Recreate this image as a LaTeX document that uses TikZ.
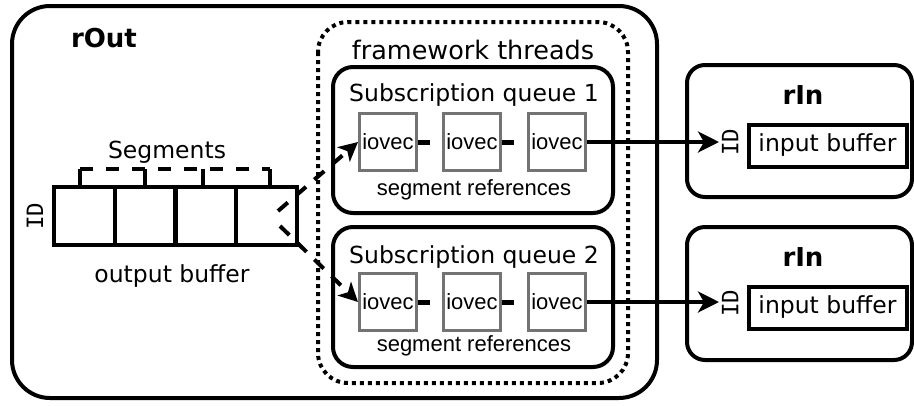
\documentclass[tikz,border=0pt]{standalone}
\usepackage{fontspec}
\setmainfont{DejaVu Sans}
\newfontfamily\idfont{DejaVu Sans Mono}
\newfontfamily\refsfont{Liberation Sans}
\usetikzlibrary{arrows.meta}

\begin{document}
\begin{tikzpicture}[x=1pt,y=-1pt,line width=4pt,
    lbl/.style={font=\fontsize{23.5}{28}\selectfont,inner sep=0pt},
    title/.style={font=\fontsize{26}{30}\selectfont\bfseries,inner sep=0pt},
    refs/.style={font=\refsfont\fontsize{22}{26}\selectfont,inner sep=0pt},
    idlbl/.style={font=\idfont\fontsize{22.5}{26}\selectfont,rotate=90,inner sep=1pt},
    iovec/.style={draw=black!55,line width=3pt,minimum size=57pt,inner sep=0pt,font=\refsfont\fontsize{22}{26}\selectfont},
    cell/.style={draw,minimum width=60.75pt,minimum height=58pt,inner sep=0pt},
    inbuf/.style={draw,minimum width=158pt,minimum height=42pt,inner sep=0pt,font=\fontsize{23.5}{28}\selectfont},
    stub/.style={line width=5pt},
    tip/.style={line width=4.5pt,-{Stealth[length=21pt,width=21pt,inset=6pt]}},
    dasharrow/.style={line width=4pt,dash pattern=on 13pt off 11pt,-{Stealth[length=19pt,width=19pt,inset=5pt]}}]
    \useasboundingbox (0,0) rectangle (914,405);

    % sender
    \draw [rounded corners=38] (12,6) rectangle (657,398);
    \node [title] (rout) at (104,38) {rOut};
    \node [cell] (c1) at (84.4,216) {};
    \node [cell] (c2) at (145.1,216) {};
    \node [cell] (c3) at (205.9,216) {};
    \node [cell] (c4) at (266.6,216) {};
    \node [idlbl] (idout) at (35,216) {ID};
    \node [lbl] (outbuf) at (172,276) {output buffer};
    \draw ([xshift=-4pt]c1.north) -- ++(0,-16) coordinate (t1);
    \draw (c2.north) -- ++(0,-16);
    \draw ([xshift=-3pt]c3.north) -- ++(0,-16);
    \draw ([xshift=3pt]c4.north) -- ++(0,-16) coordinate (t4);
    \draw [dash pattern=on 13pt off 13pt] (t1) -- (t4);
    \node [lbl] (segs) at (167,152) {Segments};

    % framework threads
    \draw [dash pattern=on 4pt off 4pt,rounded corners=30] (318,22) rectangle (628,383);
    \node [lbl,font=\fontsize{25.5}{30}\selectfont] (fw) at (473,50) {framework threads};

    \draw [rounded corners=20] (333,67) rectangle (613,213);
    \node [lbl] (sq1) at (474,95) {Subscription queue 1};
    \node [iovec] (q1a) at (388,142) {iovec};
    \node [iovec] (q1b) at (472,142) {iovec};
    \node [iovec] (q1c) at (557,142) {iovec};
    \node [refs] (sr1) at (474,190) {segment references};

    \draw [rounded corners=20] (333,227) rectangle (613,367);
    \node [lbl] (sq2) at (474,257) {Subscription queue 2};
    \node [iovec] (q2a) at (388,302) {iovec};
    \node [iovec] (q2b) at (472,302) {iovec};
    \node [iovec] (q2c) at (557,302) {iovec};
    \node [refs] (sr2) at (474,346) {segment references};

    \draw [stub] (q1a.east) -- ++(12,0);
    \draw [stub] (q1b.east) -- ++(12,0);
    \draw [stub] (q2a.east) -- ++(12,0);
    \draw [stub] (q2b.east) -- ++(12,0);

    % receivers
    \draw [rounded corners=18] (687,65) rectangle (912,197);
    \node [title] (rin1) at (803,95) {rIn};
    \node [inbuf] (ib1) at (827.5,145.5) {input buffer};
    \node [idlbl,anchor=north] (id1) at (719,142) {ID};

    \draw [rounded corners=18] (687,227) rectangle (912,360);
    \node [title] (rin2) at (803,257) {rIn};
    \node [inbuf] (ib2) at (827.5,307.5) {input buffer};
    \node [idlbl,anchor=north] (id2) at (719,303) {ID};

    \coordinate (o1) at (278,211);
    \coordinate (o2) at (280,226);
    \draw [dasharrow] (o1) -- (q1a.west);
    \draw [dasharrow] (o2) -- (q2a.west);
    \draw [tip] (q1c.east) -- (q1c.east -| id1.north);
    \draw [tip] (q2c.east) -- (q2c.east -| id2.north);
\end{tikzpicture}
\end{document}
